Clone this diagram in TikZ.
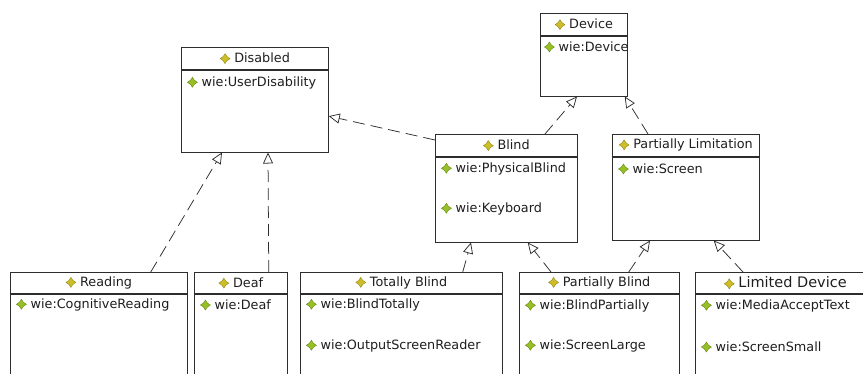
\documentclass[tikz,border=0pt]{standalone}
\usepackage{fontspec}
\setmainfont{DejaVu Sans}
\usepackage{xcolor}
\definecolor{linegray}{RGB}{45,45,45}
\definecolor{inkgray}{RGB}{30,30,30}
\definecolor{gemhead}{RGB}{205,190,40}
\definecolor{gemattr}{RGB}{150,192,35}
\usetikzlibrary{arrows.meta}
\newcommand{\gemshape}[1]{\tikz[baseline=-4pt]\filldraw[fill=#1,draw=#1!70!black,line width=0.4pt]
  (0pt,5pt)--(2pt,2pt)--(5pt,0pt)--(2pt,-2pt)--(0pt,-5pt)
  --(-2pt,-2pt)--(-5pt,0pt)--(-2pt,2pt)--cycle;\hspace{4pt}}
\newcommand{\hgem}{\gemshape{gemhead}}
\newcommand{\agem}{\gemshape{gemattr}}

\begin{document}
\begin{tikzpicture}[x=1pt,y=-1pt,
  head/.style={draw=linegray,line width=0.75pt,anchor=north west,
               minimum height=22pt,inner sep=0pt,text=inkgray,
               font=\fontsize{12.8}{15}\selectfont},
  body/.style={draw=linegray,line width=0.75pt,anchor=north,inner sep=0pt},
  attr/.style={anchor=west,inner sep=0pt,text=inkgray,
               font=\fontsize{12.8}{15}\selectfont},
  realize/.style={draw=linegray,line width=0.75pt,dash pattern=on 12pt off 6pt,
                  -{Triangle[open,length=11pt,width=10pt]}},
]
  \path[use as bounding box,clip] (0,0) rectangle (863,374);

  % upper classes
  \node[head,minimum width=147pt](dis) at (181,47) {\hgem Disabled};
  \node[body,minimum width=147pt,minimum height=82pt](disb) at (dis.south) {};
  \node[attr] at ([xshift=6pt,yshift=-13pt]disb.north west) {\agem wie:UserDisability};

  \node[head,minimum width=87pt](dev) at (540,13) {\hgem Device};
  \node[body,minimum width=87pt,minimum height=60pt](devb) at (dev.south) {};
  \node[attr] at ([xshift=4pt,yshift=-11pt]devb.north west) {\agem wie:Device};

  \node[head,minimum width=142pt](blind) at (435,134) {\hgem Blind};
  \node[body,minimum width=142pt,minimum height=85pt](blindb) at (blind.south) {};
  \node[attr] at ([xshift=6pt,yshift=-12pt]blindb.north west) {\agem wie:PhysicalBlind};
  \node[attr] at ([xshift=6pt,yshift=-52pt]blindb.north west) {\agem wie:Keyboard};

  \node[head,minimum width=147pt](pl) at (612,134) {\hgem Partially Limitation};
  \node[body,minimum width=147pt,minimum height=83pt](plb) at (pl.south) {};
  \node[attr] at ([xshift=6pt,yshift=-12pt]plb.north west) {\agem wie:Screen};

  % lower classes
  \node[head,minimum width=177pt,minimum height=21pt](read) at (10,272) {\hgem Reading};
  \node[body,minimum width=177pt,minimum height=120pt](readb) at (read.south) {};
  \node[attr] at ([xshift=6pt,yshift=-11pt]readb.north west) {\agem wie:CognitiveReading};

  \node[head,minimum width=93pt,minimum height=21pt](deaf) at (194,272) {\hgem Deaf};
  \node[body,minimum width=93pt,minimum height=120pt](deafb) at (deaf.south) {};
  \node[attr] at ([xshift=6pt,yshift=-11pt]deafb.north west) {\agem wie:Deaf};

  \node[head,minimum width=202pt,minimum height=21pt](tb) at (300,272) {\hgem Totally Blind};
  \node[body,minimum width=202pt,minimum height=120pt](tbb) at (tb.south) {};
  \node[attr] at ([xshift=6pt,yshift=-11pt]tbb.north west) {\agem wie:BlindTotally};
  \node[attr] at ([xshift=6pt,yshift=-52pt]tbb.north west) {\agem wie:OutputScreenReader};

  \node[head,minimum width=160pt,minimum height=21pt](pb) at (519,272) {\hgem Partially Blind};
  \node[body,minimum width=160pt,minimum height=120pt](pbb) at (pb.south) {};
  \node[attr] at ([xshift=6pt,yshift=-12pt]pbb.north west) {\agem wie:BlindPartially};
  \node[attr] at ([xshift=6pt,yshift=-52pt]pbb.north west) {\agem wie:ScreenLarge};

  \node[head,minimum width=180pt,minimum height=21pt,
        font=\fontsize{14.5}{17}\selectfont](ld) at (695,272) {\hgem Limited Device};
  \node[body,minimum width=180pt,minimum height=120pt](ldb) at (ld.south) {};
  \node[attr] at ([xshift=6pt,yshift=-12pt]ldb.north west) {\agem wie:MediaAcceptText};
  \node[attr] at ([xshift=6pt,yshift=-53pt]ldb.north west) {\agem wie:ScreenSmall};

  % realizations
  \draw[realize] ([yshift=-6pt]blind.north west) -- ([yshift=-5pt]disb.east);
  \draw[realize] ([xshift=-37pt]read.north east) -- ([xshift=41pt]disb.south west);
  \draw[realize] ([xshift=-19pt]deaf.north east) -- ([xshift=87pt]disb.south west);
  \draw[realize] ([xshift=110pt]blind.north west) -- ([xshift=37pt]devb.south west);
  \draw[realize] ([xshift=36pt]pl.north west) -- ([xshift=-3pt]devb.south east);
  \draw[realize] ([xshift=-40pt]tb.north east) -- ([xshift=36pt]blindb.south west);
  \draw[realize] ([xshift=32pt]pb.north west) -- ([xshift=-50pt]blindb.south east);
  \draw[realize] ([xshift=-51pt]pb.north east) -- ([xshift=38pt]plb.south west);
  \draw[realize] ([xshift=48pt]ld.north west) -- ([xshift=-46pt]plb.south east);
\end{tikzpicture}
\end{document}
